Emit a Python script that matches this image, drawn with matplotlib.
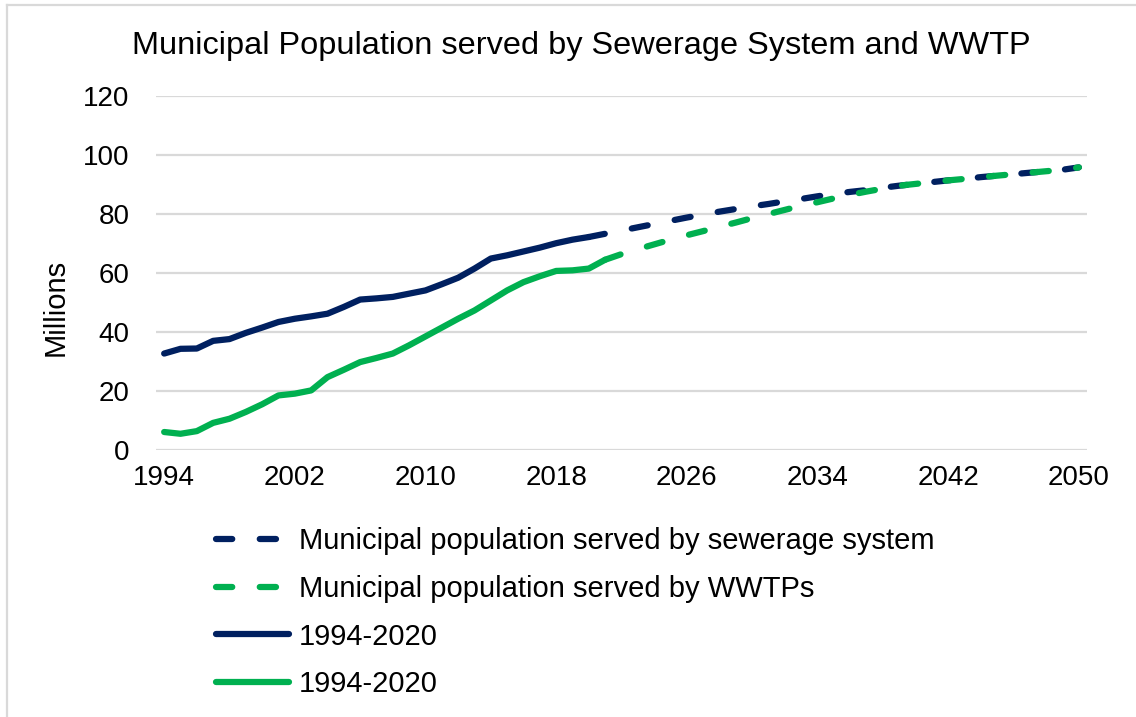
import matplotlib
matplotlib.use("Agg")
import matplotlib.pyplot as plt
from matplotlib.lines import Line2D

plt.rcParams['font.family'] = ['Liberation Sans', 'DejaVu Sans']

# observed values, 1994-2021
years_obs = list(range(1994, 2021))
sewer_obs = [32.7, 34.3, 34.4, 37.0, 37.6, 39.7, 41.5, 43.4, 44.5, 45.3,
             46.2, 48.5, 51.0, 51.4, 51.9, 53.0, 54.1, 56.2, 58.4, 61.5,
             64.9, 66.0, 67.3, 68.6, 70.1, 71.3, 72.2]
years_wwtp_obs = list(range(1994, 2022))
wwtp_obs = [6.1, 5.5, 6.4, 9.2, 10.6, 12.9, 15.5, 18.5, 19.1, 20.2,
            24.7, 27.2, 29.8, 31.2, 32.7, 35.5, 38.5, 41.5, 44.5, 47.3,
            50.7, 54.1, 56.9, 58.9, 60.7, 60.9, 61.5, 64.5]

# projections to 2050
years_sewer_proj = list(range(2020, 2051))
sewer_proj = [72.2, 73.3, 74.4, 75.5, 76.6, 77.7, 78.8, 79.8, 80.8, 81.7,
              82.6, 83.4, 84.3, 85.1, 86.0, 86.8, 87.5, 88.1, 88.9, 89.6,
              90.2, 90.8, 91.4, 91.9, 92.5, 93.0, 93.5, 94.0, 94.5, 95.0,
              95.8]
years_wwtp_proj = list(range(2021, 2051))
wwtp_proj = [64.5, 66.4, 68.1, 69.7, 71.3, 72.8, 74.2, 75.7, 77.1, 78.6,
             80.0, 81.4, 82.8, 84.0, 85.3, 86.5, 87.6, 88.6, 89.6,
             90.2, 90.8, 91.4, 91.9, 92.5, 93.0, 93.5, 94.0, 94.5, 95.0,
             95.8]

labels = ['Municipal population served by sewerage system',
          'Municipal population served by WWTPs',
          '1994-2020', '1994-2020']

navy = '#002060'
green = '#00b050'
grid_col = '#d9d9d9'
fs = 20
lw = 4.5

fig = plt.figure(figsize=(11.36, 7.17), dpi=100)
ax = fig.add_axes([156/1136, 1 - 450/717, (1087 - 156)/1136, (450 - 96)/717])

dash = dict(linestyle=(0, (2.6, 4.4)), dash_capstyle='round',
            solid_capstyle='round', lw=lw)
l1, = ax.plot(years_sewer_proj, sewer_proj, color=navy, **dash)
l2, = ax.plot(years_wwtp_proj, wwtp_proj, color=green, **dash)
l3, = ax.plot(years_obs, sewer_obs, color=navy, lw=lw,
              solid_capstyle='round', solid_joinstyle='round')
l4, = ax.plot(years_wwtp_obs, wwtp_obs, color=green, lw=lw,
              solid_capstyle='round', solid_joinstyle='round')

ax.set_xlim(1993.5, 2050.5)
ax.set_ylim(0, 120)
ax.set_xticks(range(1994, 2051, 8))
ax.set_yticks(range(0, 121, 20))
ax.grid(axis='y', color=grid_col, lw=1.6)
ax.set_axisbelow(True)
for s in ax.spines.values():
    s.set_visible(False)
ax.tick_params(axis='both', length=0, labelsize=fs, colors='black')
ax.tick_params(axis='y', pad=19)
ax.tick_params(axis='x', pad=11)

fig.text(56/1136, 1 - 307/717, 'Millions', rotation=90, fontsize=21,
         ha='center', va='center')
fig.text(581/1136, 1 - 46/717,
         'Municipal Population served by Sewerage System and WWTP',
         fontsize=23.4, ha='center', va='center')

fig.legend([l1, l2, l3, l4], labels, loc='upper left',
           bbox_to_anchor=(216/1136, 1 - 527/717), frameon=False,
           fontsize=21, handlelength=2.5, handletextpad=0.35,
           labelspacing=0.68, borderpad=0, borderaxespad=0)

# chart border (top and left edges)
fig.add_artist(Line2D([7/1136, 7/1136], [0, 1 - 5/717], color=grid_col,
                      lw=1.6, transform=fig.transFigure))
fig.add_artist(Line2D([7/1136, 1], [1 - 5/717, 1 - 5/717], color=grid_col,
                      lw=1.6, transform=fig.transFigure))

fig.savefig('out.png', dpi=100)
